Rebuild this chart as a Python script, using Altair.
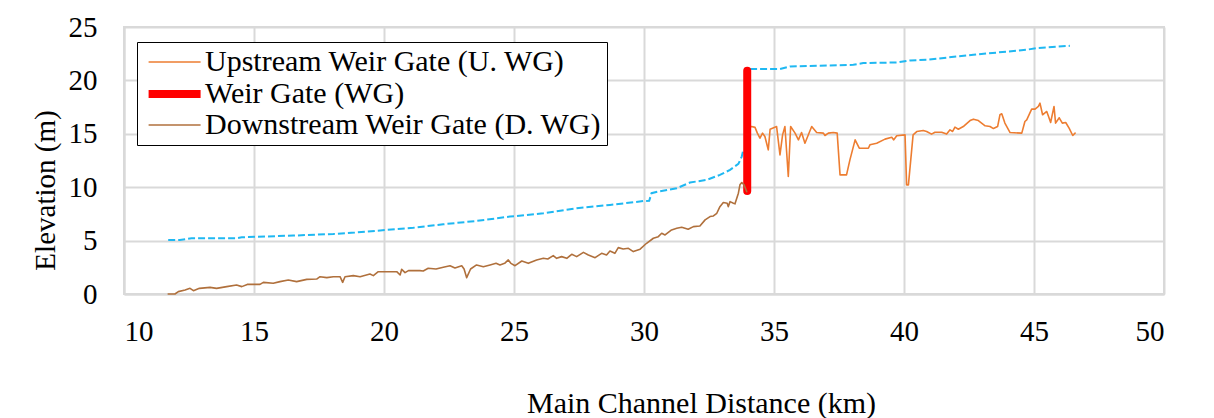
import altair as alt
import pandas as pd

# ---------------- data ----------------
series_names = ["Upstream Weir Gate (U. WG)", "Weir Gate (WG)", "Downstream Weir Gate (D. WG)"]
series_colors = ["#ED7D31", "#FF0000", "#B0703C"]
series_widths = [1.6, 8, 1.6]

downstream_points = [
    (11.70, 0.00), (11.96, 0.00), (12.09, 0.22), (12.35, 0.37), (12.54, 0.53), (12.67, 0.31),
    (12.90, 0.53), (13.31, 0.62), (13.56, 0.53), (13.95, 0.69), (14.33, 0.84), (14.53, 0.69),
    (14.74, 0.90), (15.23, 0.90), (15.36, 1.09), (15.74, 1.00), (16.00, 1.16), (16.32, 1.31),
    (16.64, 1.16), (17.03, 1.37), (17.41, 1.40), (17.54, 1.62), (17.80, 1.53), (18.05, 1.62),
    (18.31, 1.62), (18.41, 1.09), (18.50, 1.62), (18.82, 1.72), (19.08, 1.62), (19.46, 1.87),
    (19.59, 1.72), (19.78, 2.09), (20.23, 2.09), (20.49, 2.09), (20.62, 1.78), (20.68, 2.31),
    (20.81, 2.00), (20.94, 2.19), (21.38, 2.19), (21.51, 2.16), (21.70, 2.41), (22.00, 2.34),
    (22.28, 2.50), (22.54, 2.65), (22.73, 2.44), (22.99, 2.65), (23.08, 2.34), (23.18, 1.53),
    (23.33, 2.34), (23.56, 2.72), (23.82, 2.56), (24.08, 2.72), (24.31, 2.87), (24.46, 2.72),
    (24.64, 2.87), (24.78, 3.19), (24.88, 2.87), (25.04, 2.65), (25.30, 3.09), (25.55, 2.87),
    (25.87, 3.19), (26.13, 3.34), (26.30, 3.28), (26.51, 3.59), (26.64, 3.34), (26.83, 3.50),
    (27.03, 3.34), (27.22, 3.72), (27.41, 3.50), (27.67, 3.90), (27.86, 3.65), (28.12, 3.40),
    (28.37, 3.81), (28.56, 3.65), (28.69, 4.03), (28.88, 3.81), (29.01, 4.34), (29.20, 4.22),
    (29.40, 4.28), (29.59, 3.97), (29.85, 4.20), (30.10, 4.75), (30.36, 5.22), (30.55, 5.37),
    (30.68, 5.69), (30.81, 5.53), (31.06, 6.00), (31.26, 6.15), (31.45, 6.25), (31.70, 6.06),
    (31.90, 6.31), (32.15, 6.37), (32.35, 6.94), (32.54, 7.25), (32.67, 7.31), (32.80, 7.56),
    (32.92, 8.18), (33.05, 8.56), (33.20, 8.50), (33.24, 8.18), (33.31, 8.65), (33.44, 8.50),
    (33.50, 8.44), (33.63, 9.44), (33.69, 10.22), (33.76, 10.44), (33.85, 10.22), (33.95, 9.59),
]

upstream_points = [
    (33.99, 15.65), (34.14, 15.68), (34.27, 15.60), (34.36, 15.06), (34.46, 14.59), (34.56, 15.06),
    (34.65, 14.75), (34.78, 13.50), (34.85, 15.43), (35.10, 15.68), (35.23, 13.03), (35.33, 14.90),
    (35.42, 15.68), (35.55, 11.00), (35.64, 15.68), (35.81, 15.06), (35.94, 14.43), (36.06, 15.12),
    (36.19, 14.12), (36.45, 15.68), (36.64, 15.12), (36.90, 15.06), (36.96, 14.84), (37.09, 15.06),
    (37.28, 15.12), (37.43, 15.06), (37.54, 11.15), (37.79, 11.15), (37.92, 12.56), (38.12, 14.43),
    (38.28, 13.65), (38.63, 13.65), (38.69, 13.97), (38.95, 14.12), (39.27, 14.50), (39.53, 14.68),
    (39.60, 14.43), (39.72, 14.81), (40.04, 14.90), (40.10, 10.22), (40.17, 10.22), (40.35, 14.90),
    (40.49, 15.21), (40.74, 15.31), (40.87, 15.22), (41.06, 14.97), (41.19, 15.15), (41.45, 15.15),
    (41.64, 14.97), (41.77, 15.37), (41.87, 15.22), (41.96, 15.62), (42.09, 15.43), (42.28, 15.68),
    (42.54, 16.24), (42.67, 16.37), (42.86, 16.24), (43.12, 15.75), (43.31, 15.68), (43.44, 15.49),
    (43.60, 15.68), (43.69, 16.78), (43.76, 16.87), (43.88, 16.00), (44.08, 15.12), (44.53, 15.06),
    (44.65, 16.15), (44.72, 16.30), (44.91, 17.31), (45.04, 17.31), (45.17, 17.56), (45.23, 17.87),
    (45.33, 16.78), (45.49, 17.09), (45.56, 16.62), (45.64, 16.06), (45.77, 17.56), (45.83, 16.00),
    (45.97, 16.50), (46.09, 16.00), (46.22, 16.06), (46.35, 15.53), (46.49, 14.84), (46.58, 15.06),
]

gate_points = [(33.97, 9.65), (33.97, 20.90)]

water_lower = [
    (11.70, 5.06), (12.15, 5.06), (12.60, 5.22), (14.33, 5.22), (14.53, 5.31), (16.51, 5.47),
    (18.05, 5.62), (18.88, 5.75), (20.10, 6.00), (21.13, 6.20), (22.28, 6.53), (23.56, 6.84),
    (24.85, 7.25), (26.13, 7.56), (27.41, 8.03), (28.69, 8.34), (29.97, 8.70), (30.20, 8.72),
    (30.29, 9.44), (30.55, 9.59), (31.26, 9.90), (31.77, 10.44), (32.41, 10.68), (32.92, 11.15),
    (33.31, 11.62), (33.63, 12.18), (33.76, 12.87), (33.82, 13.50),
]
water_upper = [
    (34.08, 21.06), (35.23, 21.06), (35.62, 21.31), (38.05, 21.46), (38.43, 21.62), (39.72, 21.68),
    (40.23, 21.87), (40.87, 21.93), (42.67, 22.40), (44.72, 22.87), (45.10, 23.03), (46.38, 23.24),
]

x_ticks = [10, 15, 20, 25, 30, 35, 40, 45, 50]
y_ticks = [0, 5, 10, 15, 20, 25]

# ---------------- tables ----------------
rows = []
for name, pts in [(series_names[0], upstream_points),
                  (series_names[1], gate_points),
                  (series_names[2], downstream_points)]:
    for i, (k, m) in enumerate(pts):
        rows.append({"series": name, "km": k, "m": m, "i": i})
main_df = pd.DataFrame(rows)

wrows = []
for seg, pts in [("a", water_lower), ("b", water_upper)]:
    for i, (k, m) in enumerate(pts):
        wrows.append({"seg": seg, "km": k, "m": m, "i": i})
water_df = pd.DataFrame(wrows)

FONT = "Liberation Serif"
GRID = "#D9D9D9"

x_enc = alt.X(
    "km:Q",
    scale=alt.Scale(domain=[10, 50], nice=False, zero=False),
    axis=alt.Axis(
        values=x_ticks, title="Main Channel Distance (km)", ticks=False,
        labelPadding=23, titleX=577, titleY=118, titleBaseline="alphabetic",
        titleFontSize=30,
    ),
)
y_enc = alt.Y(
    "m:Q",
    scale=alt.Scale(domain=[0, 25], nice=False),
    axis=alt.Axis(
        values=y_ticks, title="Elevation (m)", ticks=False, labelPadding=27,
        titleX=-79, titleY=163, titleBaseline="middle", titleAngle=270,
    ),
)

legend_kw = dict(
    title=None, orient="none", legendX=13, legendY=15,
    symbolType="M-0.8,0L3.2,0", symbolSize=676,
    labelFont=FONT, labelFontSize=30, labelColor="black", labelLimit=0,
    labelOffset=29, strokeColor="black", fillColor="white",
    padding=5, rowPadding=-1,
)

water = alt.Chart(water_df).mark_line(
    strokeDash=[7, 3], strokeWidth=2, color="#1FB8F2"
).encode(x=x_enc, y=y_enc, detail="seg:N", order="i:Q")

main = alt.Chart(main_df).mark_line(strokeCap="round", strokeJoin="round").encode(
    x=x_enc,
    y=y_enc,
    color=alt.Color(
        "series:N",
        scale=alt.Scale(domain=series_names, range=series_colors),
        sort=series_names,
        legend=alt.Legend(**legend_kw),
    ),
    strokeWidth=alt.StrokeWidth(
        "series:N",
        scale=alt.Scale(type="ordinal", domain=series_names, range=series_widths),
        sort=series_names,
        legend=alt.Legend(**legend_kw),
    ),
    order="i:Q",
)

chart = (
    alt.layer(water, main)
    .properties(
        width=1040, height=267,
        autosize=alt.AutoSizeParams(type="none"),
        padding={"left": 116, "top": 19, "right": 30, "bottom": 124},
        background="white",
    )
    .configure_view(stroke=GRID, strokeWidth=2)
    .configure_axis(
        labelFont=FONT, labelFontSize=29, labelColor="black",
        titleFont=FONT, titleFontSize=29, titleFontWeight="normal", titleColor="black",
        gridColor=GRID, gridWidth=2, domainColor=GRID, domainWidth=2,
    )
)

chart.save("out.html", embed_options={"renderer": "svg", "actions": False})
